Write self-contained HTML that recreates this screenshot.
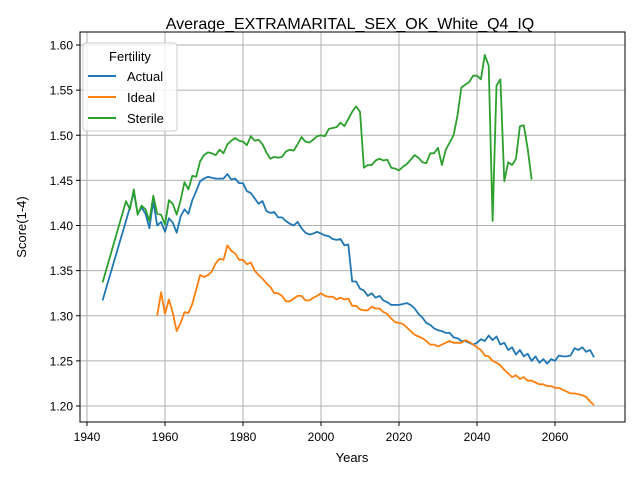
<!DOCTYPE html>
<html><head><meta charset="utf-8"><style>
body{margin:0;background:#fff;}
svg{display:block;font-family:"Liberation Sans","DejaVu Sans",sans-serif;}
</style></head><body>
<svg id="chart" width="640" height="480" xmlns="http://www.w3.org/2000/svg">
<rect width="640" height="480" fill="#fff"/>
<text x="350" y="29" text-anchor="middle" font-size="16">Average_EXTRAMARITAL_SEX_OK_White_Q4_IQ</text>
<g id="grid"></g>
<g id="series"></g>
<rect x="80" y="32" width="545" height="390" fill="none" stroke="#000" stroke-width="1"/>
<g id="ticks"></g>
<text x="352" y="462" text-anchor="middle" font-size="13">Years</text>
<text x="26" y="227" text-anchor="middle" font-size="13" transform="rotate(-90 26 227)">Score(1-4)</text>
<g>
<rect x="83" y="43" width="94" height="88" rx="3" fill="#fff" fill-opacity="0.8" stroke="#ccc"/>
<text x="130" y="61" text-anchor="middle" font-size="13">Fertility</text>
<line x1="88" y1="76" x2="116" y2="76" stroke="#1f77b4" stroke-width="2"/>
<text x="127" y="81" font-size="13">Actual</text>
<line x1="88" y1="97" x2="116" y2="97" stroke="#ff7f0e" stroke-width="2"/>
<text x="127" y="102" font-size="13">Ideal</text>
<line x1="88" y1="118" x2="116" y2="118" stroke="#2ca02c" stroke-width="2"/>
<text x="127" y="123" font-size="13">Sterile</text>
</g>
</svg>
<script>
const xTicks=[1940,1960,1980,2000,2020,2040,2060];
const yTicks=[1.20,1.25,1.30,1.35,1.40,1.45,1.50,1.55,1.60];
const actualYears=[1944,1951,1952,1953,1954,1955,1956,1957,1958,1959,1960,1961,1962,1963,1964,1965,1966,1967,1968,1969,1970,1971,1972,1973,1974,1975,1976,1977,1978,1979,1980,1981,1982,1983,1984,1985,1986,1987,1988,1989,1990,1991,1992,1993,1994,1995,1996,1997,1998,1999,2000,2001,2002,2003,2004,2005,2006,2007,2008,2009,2010,2011,2012,2013,2014,2015,2016,2017,2018,2019,2020,2021,2022,2023,2024,2025,2026,2027,2028,2029,2030,2031,2032,2033,2034,2035,2036,2037,2038,2039,2040,2041,2042,2043,2044,2045,2046,2047,2048,2049,2050,2051,2052,2053,2054,2055,2056,2057,2058,2059,2060,2061,2062,2063,2064,2065,2066,2067,2068,2069,2070];
const actualValues=[1.317,1.420,1.437,1.413,1.420,1.413,1.397,1.427,1.400,1.404,1.393,1.408,1.403,1.392,1.410,1.418,1.413,1.428,1.438,1.449,1.452,1.454,1.453,1.452,1.452,1.452,1.457,1.451,1.452,1.447,1.447,1.438,1.436,1.430,1.424,1.427,1.416,1.414,1.415,1.409,1.409,1.405,1.402,1.400,1.404,1.397,1.392,1.390,1.391,1.393,1.391,1.389,1.388,1.385,1.384,1.385,1.378,1.379,1.338,1.338,1.330,1.328,1.322,1.325,1.320,1.322,1.317,1.315,1.312,1.312,1.312,1.313,1.314,1.312,1.308,1.302,1.298,1.292,1.290,1.286,1.284,1.283,1.281,1.281,1.276,1.275,1.272,1.272,1.270,1.268,1.270,1.274,1.272,1.278,1.273,1.277,1.268,1.270,1.262,1.265,1.257,1.262,1.255,1.258,1.250,1.255,1.248,1.252,1.247,1.252,1.250,1.256,1.255,1.255,1.256,1.264,1.262,1.265,1.260,1.262,1.254];
const idealYears=[1958,1959,1960,1961,1962,1963,1964,1965,1966,1967,1968,1969,1970,1971,1972,1973,1974,1975,1976,1977,1978,1979,1980,1981,1982,1983,1984,1985,1986,1987,1988,1989,1990,1991,1992,1993,1994,1995,1996,1997,1998,1999,2000,2001,2002,2003,2004,2005,2006,2007,2008,2009,2010,2011,2012,2013,2014,2015,2016,2017,2018,2019,2020,2021,2022,2023,2024,2025,2026,2027,2028,2029,2030,2031,2032,2033,2034,2035,2036,2037,2038,2039,2040,2041,2042,2043,2044,2045,2046,2047,2048,2049,2050,2051,2052,2053,2054,2055,2056,2057,2058,2059,2060,2061,2062,2063,2064,2065,2066,2067,2068,2069,2070];
const idealValues=[1.300,1.326,1.302,1.318,1.303,1.283,1.292,1.304,1.303,1.313,1.329,1.345,1.343,1.345,1.349,1.358,1.363,1.362,1.378,1.372,1.369,1.362,1.362,1.357,1.359,1.350,1.345,1.341,1.336,1.332,1.325,1.325,1.322,1.316,1.316,1.319,1.322,1.322,1.317,1.317,1.320,1.322,1.325,1.322,1.321,1.321,1.318,1.320,1.318,1.319,1.311,1.311,1.307,1.306,1.306,1.310,1.308,1.308,1.304,1.302,1.297,1.293,1.292,1.291,1.287,1.283,1.279,1.277,1.275,1.272,1.268,1.268,1.266,1.268,1.270,1.272,1.270,1.270,1.270,1.273,1.271,1.268,1.265,1.262,1.256,1.255,1.250,1.248,1.245,1.240,1.236,1.232,1.234,1.230,1.232,1.228,1.228,1.226,1.224,1.224,1.222,1.222,1.220,1.220,1.218,1.216,1.214,1.214,1.213,1.212,1.210,1.205,1.201];
const sterileYears=[1944,1950,1951,1952,1953,1954,1955,1956,1957,1958,1959,1960,1961,1962,1963,1964,1965,1966,1967,1968,1969,1970,1971,1972,1973,1974,1975,1976,1977,1978,1979,1980,1981,1982,1983,1984,1985,1986,1987,1988,1989,1990,1991,1992,1993,1994,1995,1996,1997,1998,1999,2000,2001,2002,2003,2004,2005,2006,2007,2008,2009,2010,2011,2012,2013,2014,2015,2016,2017,2018,2019,2020,2021,2022,2023,2024,2025,2026,2027,2028,2029,2030,2031,2032,2033,2034,2035,2036,2037,2038,2039,2040,2041,2042,2043,2044,2045,2046,2047,2048,2049,2050,2051,2052,2053,2054];
const sterileValues=[1.337,1.427,1.418,1.440,1.412,1.422,1.418,1.405,1.433,1.413,1.412,1.401,1.428,1.424,1.412,1.428,1.448,1.440,1.455,1.454,1.471,1.478,1.481,1.480,1.478,1.484,1.480,1.490,1.494,1.497,1.494,1.493,1.489,1.499,1.494,1.495,1.490,1.481,1.474,1.476,1.475,1.476,1.482,1.484,1.483,1.490,1.498,1.493,1.492,1.495,1.499,1.500,1.499,1.507,1.508,1.509,1.514,1.510,1.518,1.526,1.532,1.526,1.464,1.467,1.467,1.472,1.474,1.472,1.473,1.464,1.463,1.461,1.465,1.468,1.473,1.478,1.475,1.470,1.469,1.480,1.480,1.486,1.467,1.484,1.492,1.500,1.522,1.553,1.556,1.559,1.566,1.566,1.562,1.589,1.577,1.405,1.555,1.562,1.449,1.470,1.467,1.474,1.510,1.511,1.485,1.451];

const NS='http://www.w3.org/2000/svg';
const X=y=>87+(y-1940)*3.9;
const Y=v=>406-(v-1.20)*902.5;
const grid=document.getElementById('grid');
const ticks=document.getElementById('ticks');
function mk(tag,attrs,parent){const e=document.createElementNS(NS,tag);for(const k in attrs)e.setAttribute(k,attrs[k]);parent.appendChild(e);return e;}
xTicks.forEach(t=>{
  const gl=mk('line',{x1:X(t),x2:X(t),y1:32,y2:422,stroke:'#b0b0b0','stroke-width':1},grid);
  
  
  const tk=mk('line',{x1:X(t),x2:X(t),y1:422,y2:426,stroke:'#000'},ticks);
  
  
  const tx=mk('text',{x:X(t),y:441,'text-anchor':'middle','font-size':12},ticks);
  tx.textContent=t;
  
  
});
yTicks.forEach(t=>{
  const gl=mk('line',{x1:80,x2:625,y1:Y(t),y2:Y(t),stroke:'#b0b0b0','stroke-width':1},grid);
  
  
  const tk=mk('line',{x1:76,x2:80,y1:Y(t),y2:Y(t),stroke:'#000'},ticks);
  
  
  const tx=mk('text',{x:73,y:Y(t)+4.5,'text-anchor':'end','font-size':12},ticks);
  tx.textContent=t.toFixed(2);
  
  
});
const series=document.getElementById('series');
function line(ys,vs,color,name){
  const d=ys.map((y,i)=>(i?'L':'M')+X(y).toFixed(1)+' '+Y(vs[i]).toFixed(1)).join(' ');
  const p=mk('path',{d:d,fill:'none',stroke:color,'stroke-width':1.8,'stroke-linejoin':'round'},series);
  
  
}
line(actualYears,actualValues,'#1f77b4','actual-line');
line(idealYears,idealValues,'#ff7f0e','ideal-line');
line(sterileYears,sterileValues,'#2ca02c','sterile-line');
</script>
</body></html>
